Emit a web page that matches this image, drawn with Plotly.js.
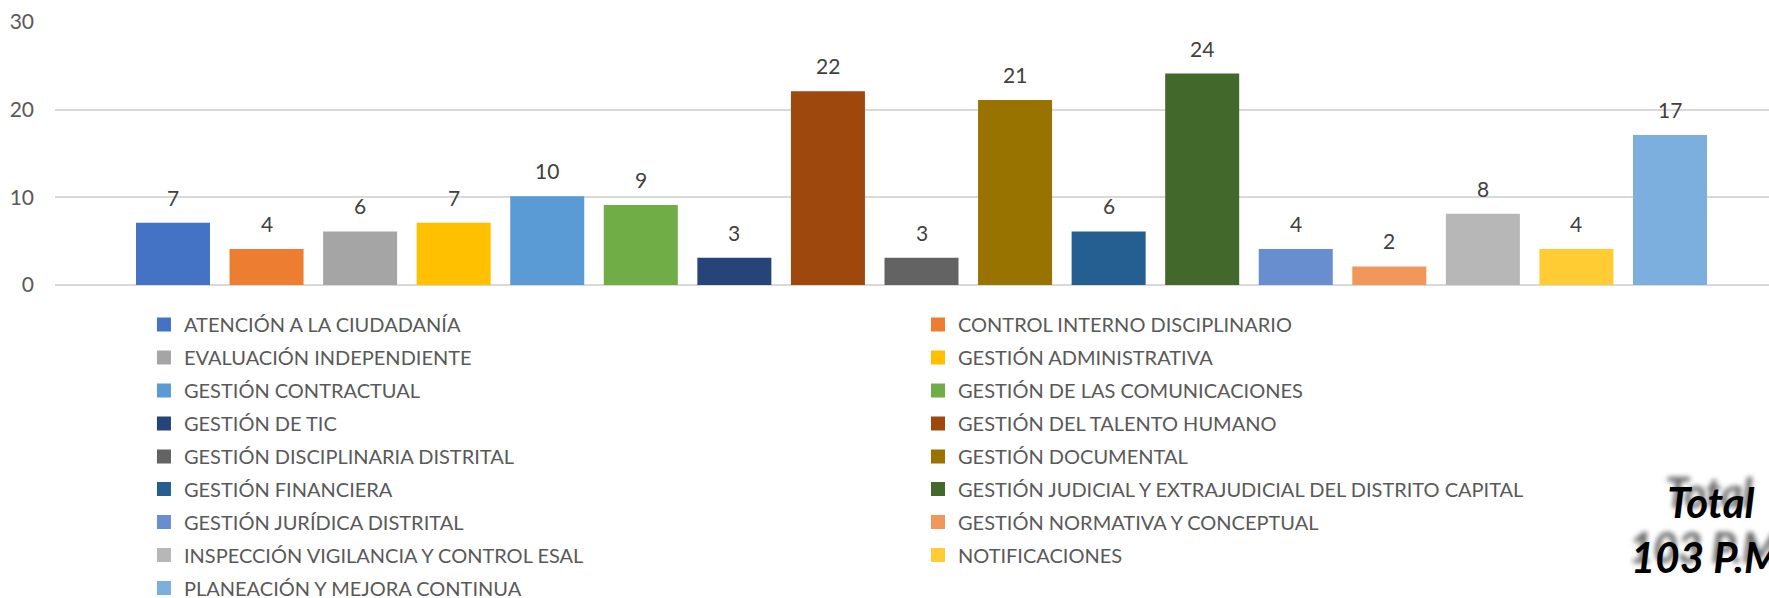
<!DOCTYPE html>
<html>
<head>
<meta charset="utf-8">
<script src="https://cdn.plot.ly/plotly-3.0.1.min.js"></script>
<style>
  html, body { margin: 0; padding: 0; background: #ffffff; }
  #chart { width: 1769px; height: 598px; }
</style>
</head>
<body>
<div id="chart"></div>
<script>
var categories = [
  "ATENCIÓN A LA CIUDADANÍA",
  "CONTROL INTERNO DISCIPLINARIO",
  "EVALUACIÓN INDEPENDIENTE",
  "GESTIÓN ADMINISTRATIVA",
  "GESTIÓN CONTRACTUAL",
  "GESTIÓN DE LAS COMUNICACIONES",
  "GESTIÓN DE TIC",
  "GESTIÓN DEL TALENTO HUMANO",
  "GESTIÓN DISCIPLINARIA DISTRITAL",
  "GESTIÓN DOCUMENTAL",
  "GESTIÓN FINANCIERA",
  "GESTIÓN JUDICIAL Y EXTRAJUDICIAL DEL DISTRITO CAPITAL",
  "GESTIÓN JURÍDICA DISTRITAL",
  "GESTIÓN NORMATIVA Y CONCEPTUAL",
  "INSPECCIÓN VIGILANCIA Y CONTROL ESAL",
  "NOTIFICACIONES",
  "PLANEACIÓN Y MEJORA CONTINUA"
];
var values = [7, 4, 6, 7, 10, 9, 3, 22, 3, 21, 6, 24, 4, 2, 8, 4, 17];
var colors = [
  "#4472C4", "#ED7D31", "#A5A5A5", "#FFC000", "#5B9BD5", "#70AD47",
  "#264478", "#9E480E", "#636363", "#997300", "#255E91", "#43682B",
  "#698ED0", "#F1975A", "#B7B7B7", "#FFCD33", "#7CAFDD"
];
var yTickValues = [0, 10, 20, 30];
var totalText = "Total<br>103 P.M.";

var FONT = "Lato, 'Open Sans', sans-serif";

function legendFor(i) {
  var col = i % 2;
  var row = Math.floor(i / 2);
  if (row < 5) return col ? "legend2" : "legend";
  return col ? "legend4" : "legend3";
}

var traces = categories.map(function (c, i) {
  return {
    type: "bar",
    name: c,
    x: [c],
    y: [values[i]],
    marker: { color: colors[i], line: { color: colors[i], width: 2 } },
    legend: legendFor(i),
    legendgroup: "g" + i,
    hoverinfo: "x+y"
  };
});

var annotations = categories.map(function (c, i) {
  return {
    x: c,
    y: values[i],
    xref: "x",
    yref: "y",
    text: String(values[i]),
    showarrow: false,
    yanchor: "bottom",
    yshift: 12,
    font: { family: FONT, size: 21, color: "#404040" }
  };
});

annotations.push({
  xref: "paper",
  yref: "paper",
  x: 0.966,
  y: -0.93,
  xanchor: "center",
  yanchor: "middle",
  align: "center",
  showarrow: false,
  text: totalText,
  font: {
    family: FONT,
    size: 42,
    color: "#000000",
    weight: "bold",
    style: "italic",
    shadow: "-2px -10px 5px rgba(0,0,0,0.6)"
  }
});

function legendBox(x, y) {
  return {
    x: x,
    y: y,
    xanchor: "left",
    yanchor: "top",
    orientation: "v",
    traceorder: "grouped",
    tracegroupgap: 4,
    bgcolor: "rgba(0,0,0,0)",
    borderwidth: 0,
    font: { family: FONT, size: 20, color: "#595959" }
  };
}

var layout = {
  width: 1769,
  height: 598,
  paper_bgcolor: "#ffffff",
  plot_bgcolor: "#ffffff",
  margin: { l: 55, r: 0, t: 22, b: 313, pad: 0, autoexpand: false },
  barmode: "overlay",
  bargap: 0.2304,
  showlegend: true,
  font: { family: FONT, color: "#595959" },
  xaxis: {
    type: "category",
    range: [-1.261, 17.058],
    showgrid: false,
    showticklabels: false,
    zeroline: false,
    showline: false,
    ticks: "",
    fixedrange: true
  },
  yaxis: {
    range: [0, 30],
    tickvals: yTickValues,
    ticktext: yTickValues.map(String),
    showgrid: true,
    gridcolor: "#D9D9D9",
    gridwidth: 2,
    zeroline: true,
    zerolinecolor: "#D9D9D9",
    zerolinewidth: 2,
    showline: false,
    ticks: "",
    ticklabelstandoff: 20,
    tickfont: { family: FONT, size: 21, color: "#595959" },
    fixedrange: true
  },
  legend: legendBox(0.0519, -0.0757),
  legend2: legendBox(0.5035, -0.0757),
  legend3: legendBox(0.0519, -0.7012),
  legend4: legendBox(0.5035, -0.7012),
  annotations: annotations
};

Plotly.newPlot("chart", traces, layout, { displayModeBar: false, staticPlot: true });
</script>
</body>
</html>
